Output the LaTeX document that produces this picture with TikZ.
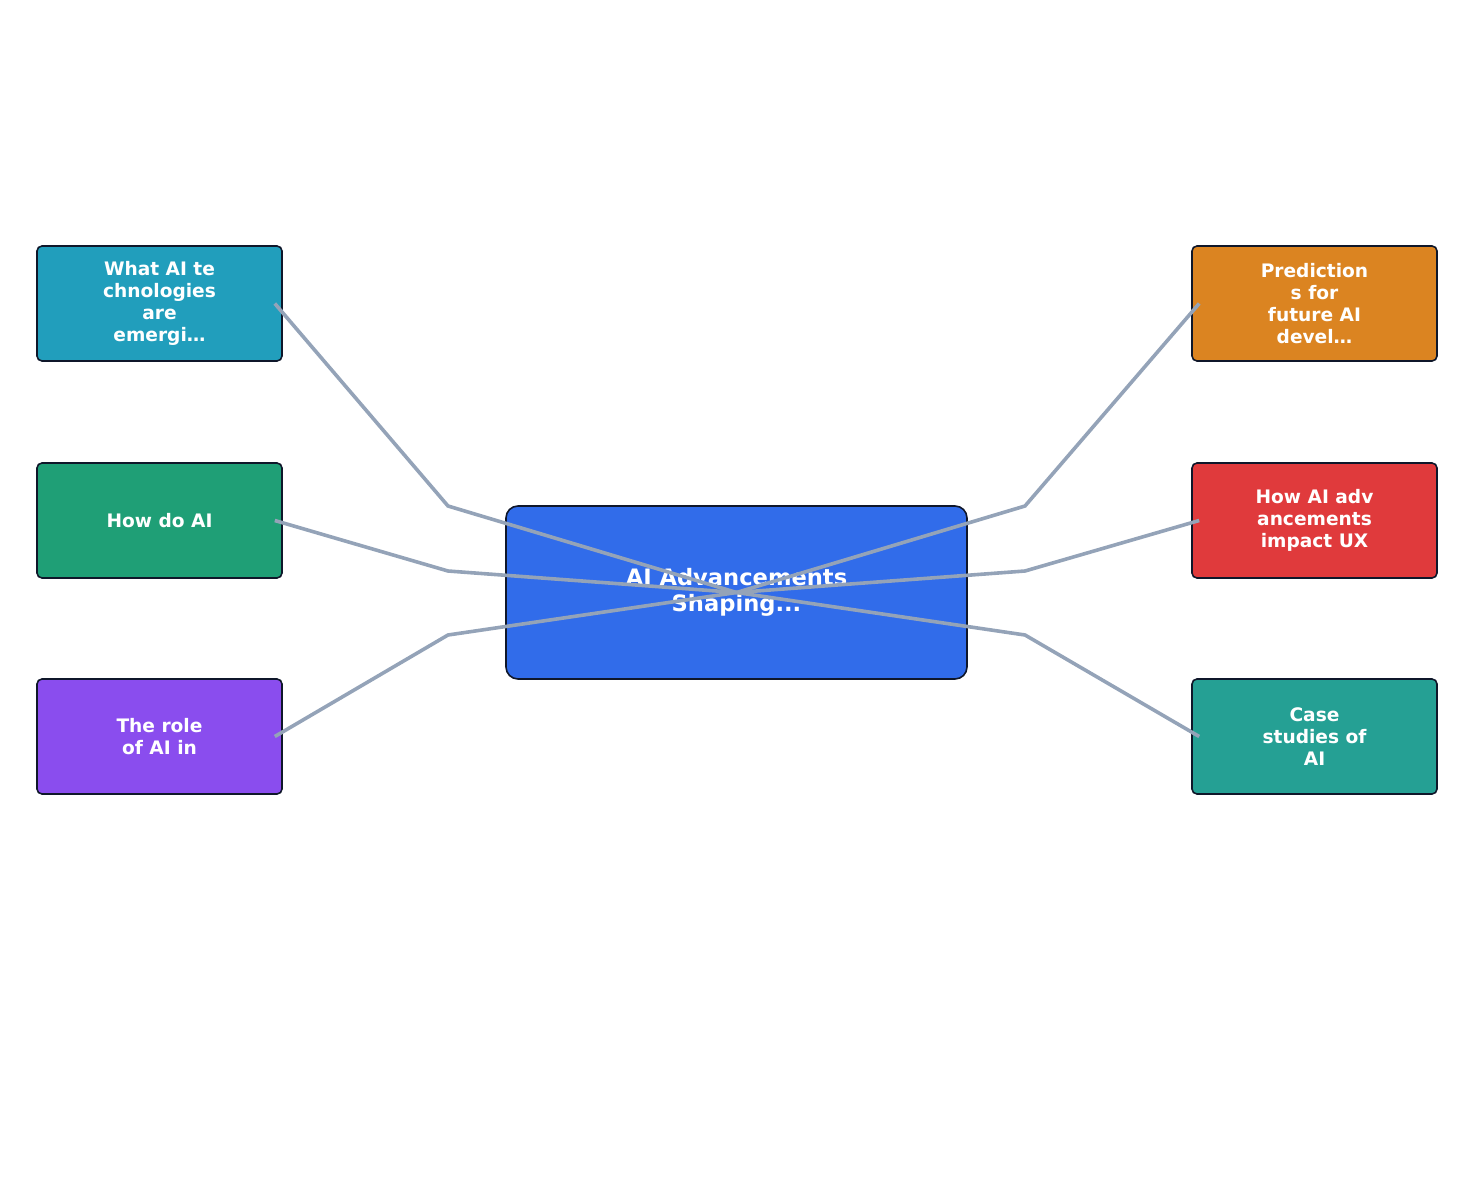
\documentclass[tikz,border=0pt]{standalone}
\usepackage{fontspec}
\setmainfont{DejaVu Sans}
\usetikzlibrary{positioning, calc}
\definecolor{cWhat}{HTML}{219EBC}
\definecolor{cHow}{HTML}{1F9F76}
\definecolor{cRole}{HTML}{8A4DEE}
\definecolor{cPred}{HTML}{DB8421}
\definecolor{cImpact}{HTML}{E03A3C}
\definecolor{cCase}{HTML}{25A094}
\definecolor{cHub}{HTML}{316CEA}
\definecolor{cEdge}{HTML}{0F172A}
\definecolor{cLink}{HTML}{94A3B8}
\tikzstyle{topic} = [rectangle, rounded corners=5pt, draw=cEdge, line width=1.6pt, minimum width=245pt, minimum height=115pt, align=center, text=white, font=\fontsize{18.6}{22}\selectfont\bfseries]
\tikzstyle{hub} = [rectangle, rounded corners=12pt, draw=cEdge, line width=1.6pt, fill=cHub, minimum width=461pt, minimum height=173pt, align=center, text=white, font=\fontsize{22.6}{26}\selectfont\bfseries]
\tikzstyle{link} = [draw=cLink, line width=3.6pt]
\begin{document}
\begin{tikzpicture}[x=1pt, y=-1pt]
		\useasboundingbox (0,0) rectangle (1473,1185);
		\node (Hub) [hub] at (736.5,592.5) {AI Advancements\\Shaping...};

		\node (What) [topic, fill=cWhat] at (159.5,303.5) {What AI te\\chnologies\\are\\emergi…};
		\node (HowDo) [topic, fill=cHow] at (159.5,520.5) {How do AI};
		\node (Role) [topic, fill=cRole] at (159.5,736.5) {The role\\of AI in};
		\node (Predict) [topic, fill=cPred] at (1314.5,303.5) {Prediction\\s for\\future AI\\devel…};
		\node (Impact) [topic, fill=cImpact] at (1314.5,520.5) {How AI adv\\ancements\\impact UX};
		\node (Cases) [topic, fill=cCase] at (1314.5,736.5) {Case\\studies of\\AI};

		% elbows
		\coordinate (ElbowWhat) at (448,506);
		\coordinate (ElbowHowDo) at (448,571);
		\coordinate (ElbowRole) at (448,635);
		\coordinate (ElbowPredict) at (1025,506);
		\coordinate (ElbowImpact) at (1025,571);
		\coordinate (ElbowCases) at (1025,635);

		\draw [link] (Hub.center) -- (ElbowWhat) -- ($(What.east) + (-8,0)$);
		\draw [link] (Hub.center) -- (ElbowHowDo) -- ($(HowDo.east) + (-8,0)$);
		\draw [link] (Hub.center) -- (ElbowRole) -- ($(Role.east) + (-8,0)$);
		\draw [link] (Hub.center) -- (ElbowPredict) -- ($(Predict.west) + (8,0)$);
		\draw [link] (Hub.center) -- (ElbowImpact) -- ($(Impact.west) + (8,0)$);
		\draw [link] (Hub.center) -- (ElbowCases) -- ($(Cases.west) + (8,0)$);
	\end{tikzpicture}
\end{document}
